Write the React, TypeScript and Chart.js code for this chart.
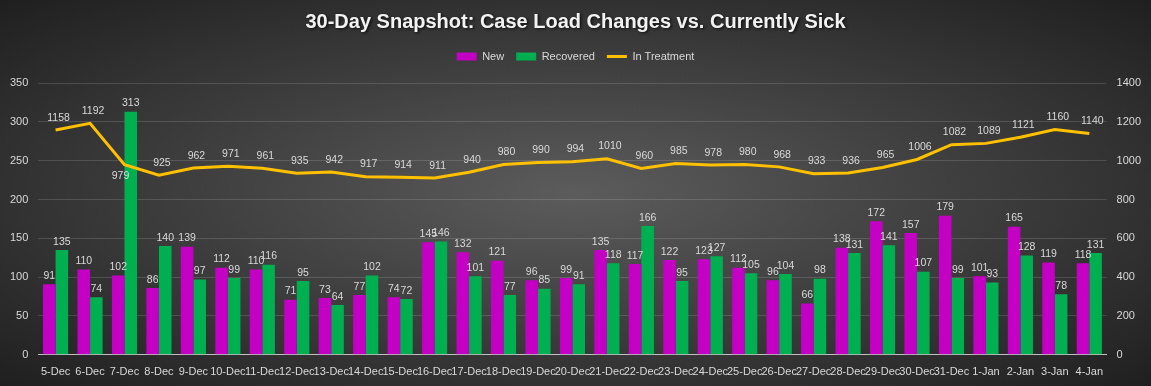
import React, { useEffect, useRef } from 'react';
import { Chart, registerables } from 'chart.js';

Chart.register(...registerables);

const dates = ['5-Dec','6-Dec','7-Dec','8-Dec','9-Dec','10-Dec','11-Dec','12-Dec','13-Dec','14-Dec','15-Dec','16-Dec','17-Dec','18-Dec','19-Dec','20-Dec','21-Dec','22-Dec','23-Dec','24-Dec','25-Dec','26-Dec','27-Dec','28-Dec','29-Dec','30-Dec','31-Dec','1-Jan','2-Jan','3-Jan','4-Jan'];
const newCases = [91,110,102,86,139,112,110,71,73,77,74,145,132,121,96,99,135,117,122,123,112,96,66,138,172,157,179,101,165,119,118];
const recovered = [135,74,313,140,97,99,116,95,64,102,72,146,101,77,85,91,118,166,95,127,105,104,98,131,141,107,99,93,128,78,131];
const inTreatment = [1158,1192,979,925,962,971,961,935,942,917,914,911,940,980,990,994,1010,960,985,978,980,968,933,936,965,1006,1082,1089,1121,1160,1140];

const leftMax = 350;
const leftStep = 50;
const rightMax = 1400;
const rightStep = 200;

const FONT = "'Liberation Sans', Arial, sans-serif";
const LABEL = '#d9d9d9';

const valueLabels = {
  id: 'valueLabels',
  afterDatasetsDraw(chart: any) {
    const ctx = chart.ctx;
    ctx.save();
    ctx.font = `10.5px ${FONT}`;
    ctx.fillStyle = LABEL;
    ctx.textAlign = 'center';
    chart.data.datasets.forEach((ds: any, di: number) => {
      const meta = chart.getDatasetMeta(di);
      meta.data.forEach((el: any, i: number) => {
        const v = String(ds.data[i]);
        if (ds.type === 'line') {
          let barTop = Infinity;
          chart.data.datasets.forEach((d2: any, dj: number) => {
            if (d2.type !== 'line') {
              const e2 = chart.getDatasetMeta(dj).data[i];
              barTop = Math.min(barTop, e2.y);
            }
          });
          if (barTop < el.y) {
            ctx.textBaseline = 'top';
            ctx.fillText(v, el.x - 4, el.y + 6);
          } else {
            ctx.textBaseline = 'bottom';
            ctx.fillText(v, el.x + 3, el.y - 7);
          }
        } else {
          ctx.textBaseline = 'bottom';
          ctx.fillText(v, el.x, el.y - 3);
        }
      });
    });
    ctx.restore();
  },
};

const layoutTweaks = {
  id: 'layoutTweaks',
  beforeInit(chart: any) {
    const legend = chart.legend;
    if (legend) {
      const origFit = legend.fit;
      legend.fit = function () {
        origFit.call(this);
        this.height += 11;
      };
    }
    const tb = chart.titleBlock;
    if (tb) {
      const origDraw = tb.draw;
      tb.draw = function () {
        const ctx = this.ctx;
        ctx.save();
        ctx.shadowColor = 'rgba(0,0,0,0.75)';
        ctx.shadowBlur = 3;
        ctx.shadowOffsetX = 1.5;
        ctx.shadowOffsetY = 1.5;
        origDraw.call(this);
        ctx.restore();
      };
    }
  },
};

export default function App() {
  const ref = useRef<HTMLCanvasElement | null>(null);
  useEffect(() => {
    document.body.style.margin = '0';
    const chart = new Chart(ref.current as HTMLCanvasElement, {
      type: 'bar',
      data: {
        labels: dates,
        datasets: [
          {
            type: 'bar',
            label: 'New',
            data: newCases,
            backgroundColor: '#C400C4',
            pointStyle: 'rect',
            yAxisID: 'y',
            categoryPercentage: 0.73,
            barPercentage: 1,
            order: 1,
          },
          {
            type: 'bar',
            label: 'Recovered',
            data: recovered,
            backgroundColor: '#00B050',
            pointStyle: 'rect',
            yAxisID: 'y',
            categoryPercentage: 0.73,
            barPercentage: 1,
            order: 1,
          },
          {
            type: 'line',
            label: 'In Treatment',
            data: inTreatment,
            borderColor: '#FFC000',
            backgroundColor: '#FFC000',
            borderWidth: 3,
            pointRadius: 0,
            pointStyle: 'line',
            tension: 0,
            yAxisID: 'y1',
            order: 0,
          },
        ] as any,
      },
      options: {
        animation: false,
        responsive: true,
        maintainAspectRatio: false,
        layout: { padding: { left: 0, right: 0, top: 0, bottom: 4 } },
        plugins: {
          title: {
            display: true,
            text: '30-Day Snapshot: Case Load Changes vs. Currently Sick',
            color: '#f2f2f2',
            font: { family: FONT, size: 20, weight: 'bold' },
            padding: { top: 10, bottom: 5 },
          },
          legend: {
            position: 'top',
            labels: {
              usePointStyle: true,
              pointStyleWidth: 20,
              boxHeight: 8,
              color: LABEL,
              font: { family: FONT, size: 11 },
              padding: 12,
              sort: (a: any, b: any) => a.datasetIndex - b.datasetIndex,
            },
          },
          tooltip: { enabled: false },
        },
        scales: {
          x: {
            grid: { display: false },
            border: { color: '#bfbfbf', width: 1 },
            ticks: {
              color: LABEL,
              font: { family: FONT, size: 11 },
              autoSkip: false,
              maxRotation: 0,
              minRotation: 0,
            },
          },
          y: {
            position: 'left',
            min: 0,
            max: leftMax,
            ticks: { stepSize: leftStep, color: LABEL, font: { family: FONT, size: 11 }, padding: 10 },
            grid: { color: 'rgba(255,255,255,0.14)', drawTicks: false },
            border: { display: false },
          },
          y1: {
            position: 'right',
            min: 0,
            max: rightMax,
            ticks: {
              stepSize: rightStep,
              color: LABEL,
              font: { family: FONT, size: 11 },
              padding: 10,
              callback: (v: any) => String(v),
            },
            grid: { drawOnChartArea: false, drawTicks: false },
            border: { display: false },
          },
        },
      },
      plugins: [valueLabels, layoutTweaks],
    });
    return () => chart.destroy();
  }, []);
  return (
    <div
      style={{
        width: 1151,
        height: 386,
        position: 'relative',
        background: 'radial-gradient(ellipse farthest-corner at 50% 50%, #5c5c5c 0%, #404040 45%, #1f1f1f 100%)',
      }}
    >
      <canvas ref={ref} />
    </div>
  );
}
